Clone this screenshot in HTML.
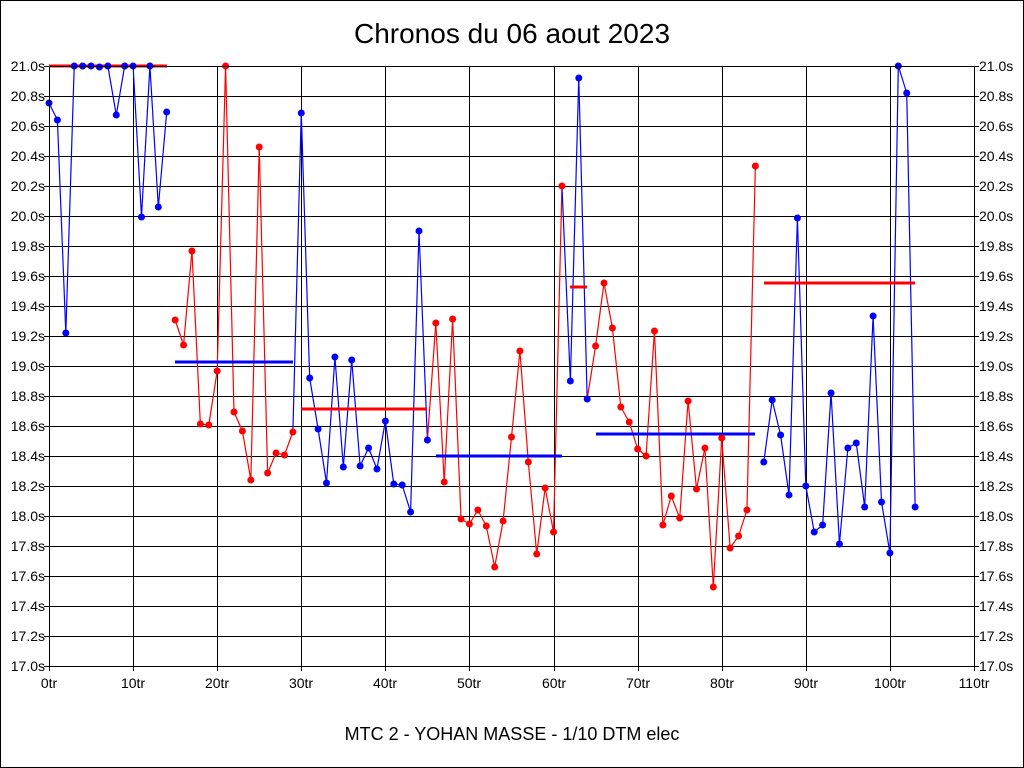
<!DOCTYPE html>
<html><head><meta charset="utf-8"><style>
html,body{margin:0;padding:0;background:#fff;width:1024px;height:768px;overflow:hidden}
svg text{font-family:"Liberation Sans",Arial,sans-serif}
</style></head><body>
<svg id="s" width="1024" height="768" xmlns="http://www.w3.org/2000/svg">
<rect x="0.5" y="0.5" width="1023" height="767" fill="#fff" stroke="#000"/>
<text x="512" y="43" font-size="28" text-anchor="middle">Chronos du 06 aout 2023</text>
<text x="512" y="740" font-size="18" text-anchor="middle">MTC 2 - YOHAN MASSE - 1/10 DTM elec</text>
<g id="g"></g>
</svg>
<script>
var g=document.getElementById('g'),h='';
var L=49,R=974,T=66,B=666;
for(var i=0;i<=20;i++){var y=T+i*30;h+='<line x1="'+(L-5)+'" x2="'+(R+5)+'" y1="'+(y+.5)+'" y2="'+(y+.5)+'" stroke="#000"/>';
var v=(21-i*0.2).toFixed(1)+'s';h+='<text x="'+(L-4)+'" y="'+(y+5)+'" font-size="14" text-anchor="end">'+v+'</text><text x="'+(R+5)+'" y="'+(y+5)+'" font-size="14">'+v+'</text>';}
for(var i=0;i<=11;i++){var x=Math.round(L+i*925/11);h+='<line x1="'+(x+.5)+'" x2="'+(x+.5)+'" y1="'+T+'" y2="'+(B+5)+'" stroke="#000"/><text x="'+x+'" y="'+(B+22)+'" font-size="14" text-anchor="middle">'+(i*10)+'tr</text>';}
var Y=[103,120,333,66,66,66,67,66,115,66,66,217,66,207,112,
320,345,251,424,425,371,66,412,431,480,147,473,453,455,432,
113,378,429,483,357,467,360,466,448,469,421,484,485,512,231,440,
323,482,319,519,524,510,526,567,521,437,351,462,554,488,532,186,
381,78,399,
346,283,328,407,422,449,456,331,525,496,518,401,489,448,587,438,548,536,510,166,
462,400,435,495,218,486,532,525,393,544,448,443,507,316,502,553,66,93,507];
var B1='#0000ff',R1='#ff0000';
function col(i){if(i<=14)return B1;if(i<=29)return R1;if(i<=45)return B1;if(i<=61)return R1;if(i<=64)return B1;if(i<=84)return R1;return B1;}
function X(i){return L+i*925/110;}
for(var i=1;i<Y.length;i++){if(i==15||i==85)continue;h+='<line x1="'+X(i-1)+'" y1="'+Y[i-1]+'" x2="'+X(i)+'" y2="'+Y[i]+'" stroke="'+col(i)+'" stroke-width="1.2"/>';}
var A=[[49,167,66,R1],[175,293,362,B1],[301,427,409,R1],[436,562,456,B1],[570,587,287,R1],[596,755,434,B1],[764,915,283,R1]];
A.forEach(function(a){h+='<line x1="'+a[0]+'" x2="'+a[1]+'" y1="'+a[2]+'" y2="'+a[2]+'" stroke="'+a[3]+'" stroke-width="3"/>';});
for(var i=0;i<Y.length;i++)h+='<circle cx="'+X(i)+'" cy="'+Y[i]+'" r="3.5" fill="'+col(i)+'"/>';
h+='<rect x="'+(L+.5)+'" y="'+(T+.5)+'" width="'+(R-L)+'" height="'+(B-T)+'" fill="none" stroke="#000"/>';
g.innerHTML=h;
</script>
</body></html>
